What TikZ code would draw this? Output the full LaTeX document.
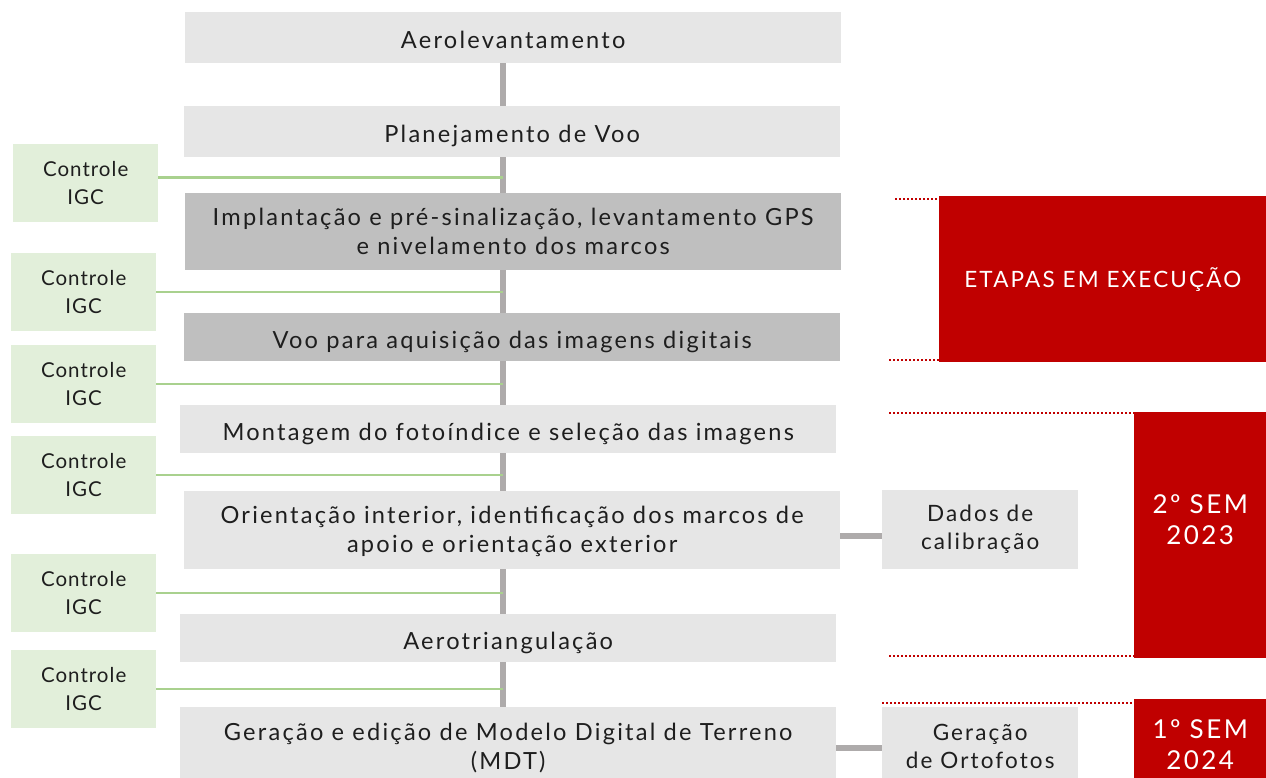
\documentclass[tikz,border=0pt]{standalone}
\usepackage{fontspec}
\setmainfont{Lato}[LetterSpace=9.5]
\usetikzlibrary{backgrounds}
\definecolor{boxlight}{HTML}{E6E6E6}
\definecolor{boxdark}{HTML}{BFBFBF}
\definecolor{greenfill}{HTML}{E2EFDA}
\definecolor{greenline}{HTML}{A9D18E}
\definecolor{spinecol}{HTML}{AEABAB}
\definecolor{redbox}{HTML}{C00000}
\definecolor{txt}{HTML}{1E1E1E}
\begin{document}
\begin{tikzpicture}[x=1pt,y=-1pt,
  lbox/.style={fill=boxlight, draw=none, inner sep=0pt, anchor=north west, text=txt,
    align=center, font=\fontsize{23.6}{29}\selectfont},
  dbox/.style={lbox, fill=boxdark},
  oneline/.style={text height=22pt, text depth=0pt},
  gbox/.style={fill=greenfill, inner sep=0pt, anchor=north west, text=txt,
    align=center, font=\addfontfeature{LetterSpace=5}\fontsize{20.5}{28}\selectfont, minimum width=145pt, minimum height=78pt},
  sbox/.style={lbox, font=\fontsize{22.5}{28}\selectfont},
  rbox/.style={fill=redbox, inner sep=0pt, anchor=north west, text=white, align=center},
  spine/.style={draw=spinecol, line width=5.5pt},
  gline/.style={draw=greenline, line width=2.5pt},
  sconn/.style={draw=spinecol, line width=6pt},
  rdot/.style={draw=redbox, line width=2.5pt, dash pattern=on 2pt off 2pt}
]
\useasboundingbox (0,0) rectangle (1266,778);
\clip (0,0) rectangle (1266,778);
\coordinate (sx) at (503,0);

% main column
\node[lbox, oneline, minimum width=656pt, minimum height=51pt] (b1) at (185,12) {Aerolevantamento};
\node[lbox, oneline, minimum width=656pt, minimum height=51pt] (b2) at (184,106) {Planejamento de Voo};
\node[dbox, minimum width=656pt, minimum height=77pt] (b3) at (185,193) {Implantação e pré-sinalização, levantamento GPS\\e nivelamento dos marcos};
\node[dbox, oneline, minimum width=656pt, minimum height=48pt] (b4) at (184,313) {Voo para aquisição das imagens digitais};
\node[lbox, oneline, minimum width=656pt, minimum height=48pt] (b5) at (180,405) {Montagem do fotoíndice e seleção das imagens};
\node[lbox, minimum width=656pt, minimum height=78pt, text depth=2pt] (b6) at (184,491) {Orientação interior, identificação dos marcos de\\apoio e orientação exterior};
\node[lbox, oneline, minimum width=656pt, minimum height=48pt] (b7) at (180,614) {Aerotriangulação};
\node[lbox, minimum width=656pt, minimum height=78pt, text depth=0pt] (b8) at (180,707) {Geração e edição de Modelo Digital de Terreno\\(MDT)};

% spine
\begin{scope}[on background layer]
\draw[spine] (b1.south -| sx) -- (b8.north -| sx);
\end{scope}

% green control boxes
\node[gbox] (g1) at (13,144) {Controle\\IGC};
\node[gbox] (g2) at (11,253) {Controle\\IGC};
\node[gbox] (g3) at (11,345) {Controle\\IGC};
\node[gbox] (g4) at (11,436) {Controle\\IGC};
\node[gbox] (g5) at (11,554) {Controle\\IGC};
\node[gbox] (g6) at (11,650) {Controle\\IGC};
\foreach \g in {g2,g3,g4,g5,g6}{
  \draw[gline] (\g.east) -- (\g.east -| sx);
}
\draw[gline] ([yshift=5.5pt]g1.east) -- ([yshift=5.5pt]g1.east -| sx);

% side boxes
\node[sbox, minimum width=196pt, minimum height=79pt] (cal) at (882,490) {Dados de\\calibração};
\node[sbox, minimum width=196pt, minimum height=78pt] (orto) at (882,707) {Geração\\de Ortofotos};
\coordinate (c1) at (0,536);
\coordinate (c2) at (0,748);
\begin{scope}[on background layer]
\draw[sconn] (b6.east |- c1) -- (cal.west |- c1);
\draw[sconn] (b8.east |- c2) -- (orto.west |- c2);
\end{scope}

% red boxes
\node[rbox, minimum width=327pt, minimum height=166pt, font=\fontsize{22.5}{27}\selectfont] (r1) at (939,196) {ETAPAS EM EXECUÇÃO};
\node[rbox, minimum width=132pt, minimum height=246pt, font=\fontsize{26}{31}\selectfont, text depth=0pt] (r2) at (1134,412) {2º SEM\\2023\\[0pt]\mbox{}};
\node[rbox, minimum width=132pt, minimum height=90pt, font=\fontsize{26}{31}\selectfont] (r3) at (1134,699) {1º SEM\\2024};

\coordinate (d1) at (895,199);
\coordinate (d2) at (889,360);
\coordinate (d3) at (889,413);
\coordinate (d4) at (889,656);
\coordinate (d5) at (882,703);
\draw[rdot] (d1) -- (d1 -| r1.west);
\draw[rdot] (d2) -- (d2 -| r1.west);
\draw[rdot] (d3) -- (d3 -| r2.west);
\draw[rdot] (d4) -- (d4 -| r2.west);
\draw[rdot] (d5) -- (d5 -| r3.west);
\end{tikzpicture}
\end{document}
